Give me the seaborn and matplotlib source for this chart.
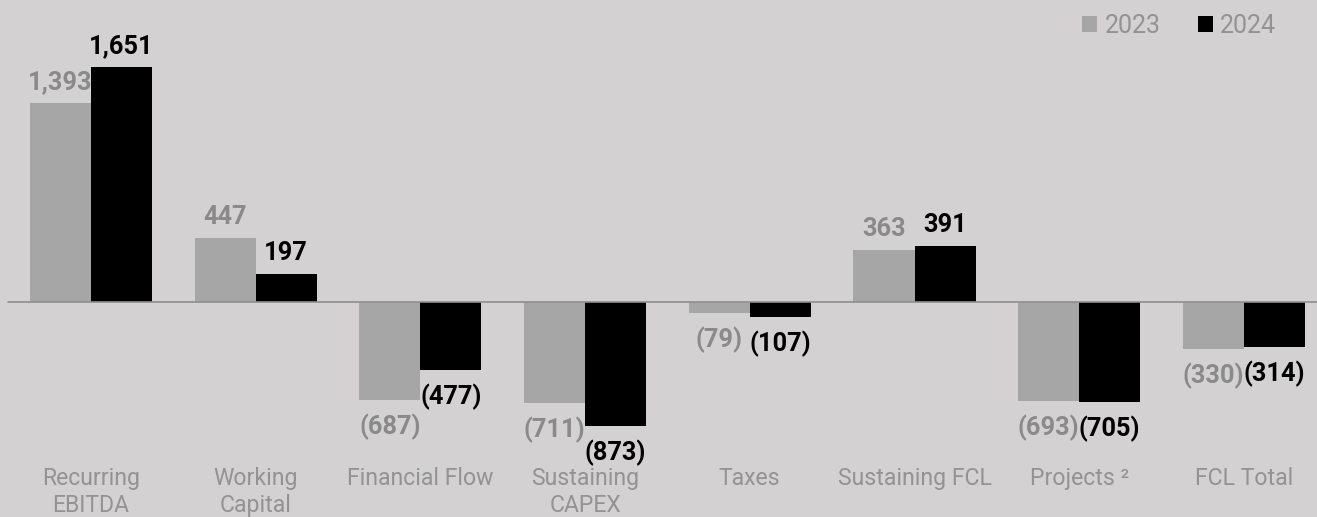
import matplotlib
matplotlib.use("Agg")
import matplotlib.pyplot as plt
from matplotlib.patches import Patch
import seaborn as sns
import pandas as pd

# Cash-flow components (BRL million)
categories = ["Recurring\nEBITDA", "Working\nCapital", "Financial Flow",
              "Sustaining\nCAPEX", "Taxes", "Sustaining FCL", "Projects ²",
              "FCL Total"]
years = ["2023", "2024"]
values_2023 = [1393, 447, -687, -711, -79, 363, -693, -330]
values_2024 = [1651, 197, -477, -873, -107, 391, -705, -314]

BG = "#d3d1d2"
GRAY_BAR = "#a6a6a6"
GRAY_TXT = "#8a8a8a"
LABEL_TXT = "#939393"
BLACK = "#000000"

sns.set_theme(style="white", rc={"axes.facecolor": BG, "figure.facecolor": BG})
plt.rcParams["font.family"] = ["Roboto", "DejaVu Sans"]

df = pd.DataFrame({
    "category": categories * 2,
    "year": [years[0]] * len(categories) + [years[1]] * len(categories),
    "value": values_2023 + values_2024,
})

W, H, DPI = 1317, 517, 100
fig = plt.figure(figsize=(W / DPI, H / DPI), dpi=DPI)

# axes spans the full width; bottom edge sits just above the category labels
ax_bottom_px = 462
ax = fig.add_axes([0, (H - ax_bottom_px) / H, 1, ax_bottom_px / H])

sns.barplot(data=df, x="category", y="value", hue="year", order=categories,
            hue_order=years, palette=[GRAY_BAR, BLACK], saturation=1,
            width=0.741, gap=0, linewidth=0, legend=False, errorbar=None, ax=ax)

step = 164.7
zero_px = 302
scale = 0.1425  # pixels per unit
ax.set_xlim(-91 / step, (W - 91) / step)
ax.set_ylim(-(ax_bottom_px - zero_px) / scale, zero_px / scale)

ax.axhline(0, xmin=8 / W, xmax=1, color="#8e8e8e", lw=1.2, zorder=3)

for s in ax.spines.values():
    s.set_visible(False)
ax.set_yticks([])
ax.set_xlabel("")
ax.set_ylabel("")
ax.set_xticks(range(len(categories)))
ax.set_xticklabels(categories, fontsize=16.6, fontweight="normal",
                   color=LABEL_TXT, linespacing=1.2)
ax.tick_params(axis="x", length=0, pad=3.6)


def fmt(v):
    return f"{v:,.0f}" if v >= 0 else f"({abs(v):,.0f})"


for cont, vals, col in zip(ax.containers, [values_2023, values_2024],
                           [GRAY_TXT, BLACK]):
    for bar, v in zip(cont.patches, vals):
        cx = bar.get_x() + bar.get_width() / 2
        off = 14 if v >= 0 else -34
        ax.annotate(fmt(v), (cx, v), xytext=(0, off), textcoords="offset pixels",
                    ha="center", va="baseline", fontsize=18.3,
                    fontweight="bold", color=col, zorder=4)

handles = [Patch(facecolor=GRAY_BAR, edgecolor="none", label="2023"),
           Patch(facecolor=BLACK, edgecolor="none", label="2024")]
leg = ax.legend(handles=handles, loc="upper right", ncol=2, frameon=False,
                bbox_to_anchor=(1276 / W, 1 - 14 / ax_bottom_px),
                borderaxespad=0, borderpad=0, handlelength=0.6,
                handleheight=0.6, handletextpad=0.28, columnspacing=1.5,
                prop={"size": 18, "weight": "normal"})
for t in leg.get_texts():
    t.set_color(LABEL_TXT)

fig.savefig("out.png", dpi=DPI, facecolor=BG)
